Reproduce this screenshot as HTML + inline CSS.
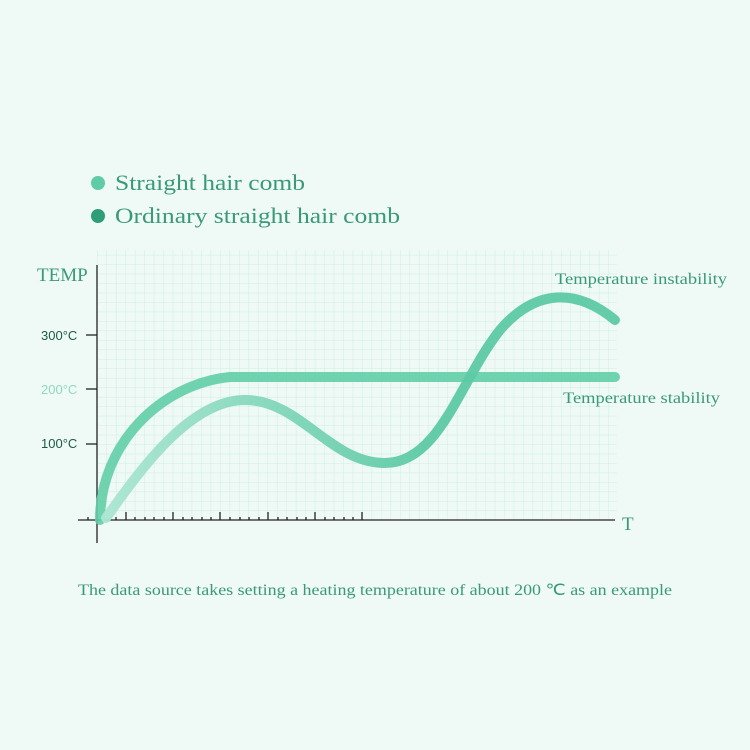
<!DOCTYPE html>
<html><head><meta charset="utf-8"><style>
body{margin:0;background:#eff9f6;}
svg{display:block}
</style></head><body>
<svg width="750" height="750" xmlns="http://www.w3.org/2000/svg">
<defs>
<pattern id="g" width="9.47" height="9.47" patternUnits="userSpaceOnUse" x="97" y="520">
<path d="M0 0H9.47M0 0V9.47" stroke="#cdeee3" stroke-width="1" fill="none"/>
</pattern>
<linearGradient id="lg" x1="100" y1="0" x2="420" y2="0" gradientUnits="userSpaceOnUse">
<stop offset="0" stop-color="#ace6d2"/><stop offset="1" stop-color="#5ecaa5"/>
</linearGradient>
</defs>
<rect width="750" height="750" fill="#eff9f6"/>
<rect x="97" y="250" width="520" height="270" fill="url(#g)"/>
<g font-family="Liberation Serif, serif" fill="#3a9a78">
<circle cx="98" cy="183" r="7" fill="#5fcca8"/>
<text x="115" y="190" font-size="22" textLength="190" lengthAdjust="spacingAndGlyphs">Straight hair comb</text>
<circle cx="98" cy="216" r="7" fill="#2e9e78"/>
<text x="115" y="223" font-size="22" textLength="285" lengthAdjust="spacingAndGlyphs">Ordinary straight hair comb</text>
<text x="37" y="281" font-size="19">TEMP</text>
<text x="555" y="284" font-size="16" textLength="172" lengthAdjust="spacingAndGlyphs">Temperature instability</text>
<text x="563" y="403" font-size="16" textLength="157" lengthAdjust="spacingAndGlyphs">Temperature stability</text>
<text x="622" y="530" font-size="19">T</text>
<text x="78" y="595" font-size="16" textLength="594" lengthAdjust="spacingAndGlyphs">The data source takes setting a heating temperature of about 200 ℃ as an example</text>
</g>
<g font-family="Liberation Sans, sans-serif" font-size="13">
<text x="41" y="340" fill="#1f5a48">300°C</text>
<text x="41" y="394" fill="#8fd9c0">200°C</text>
<text x="41" y="448" fill="#1f5a48">100°C</text>
</g>
<g stroke="#222" stroke-width="1.3">
<line x1="97" y1="265" x2="97" y2="543"/>
<line x1="78" y1="520" x2="615" y2="520"/>
<line x1="86" y1="335" x2="97" y2="335"/>
<line x1="86" y1="389" x2="97" y2="389"/>
<line x1="86" y1="444" x2="97" y2="444"/>
<path d="M88 520v-3M116 520v-3M135 520v-3M145 520v-3M154 520v-3M164 520v-3M183 520v-3M192 520v-3M202 520v-3M211 520v-3M230 520v-3M240 520v-3M249 520v-3M259 520v-3M278 520v-3M287 520v-3M297 520v-3M306 520v-3M325 520v-3M334 520v-3M344 520v-3M353 520v-3"/>
<path d="M126 520v-8M173 520v-8M220 520v-8M268 520v-8M315 520v-8M362 520v-8"/>
</g>
<path d="M100 520 C100 445 160 384 230 377 L615 377" stroke="#62cea9" stroke-width="10" fill="none" stroke-linecap="round" opacity="0.9"/>
<path d="M106 518 C140 470 190 400 245 400 C300 400 330 463 385 463 C440 463 460 380 500 330 C530 295 570 283 615 320" stroke="url(#lg)" stroke-width="10" fill="none" stroke-linecap="round" opacity="0.95"/>
</svg>
</body></html>
